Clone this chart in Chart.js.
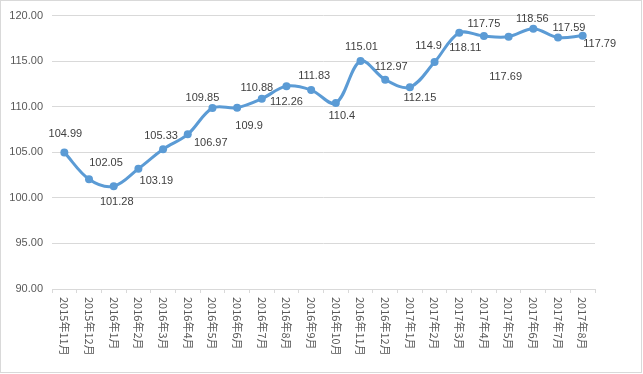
<!DOCTYPE html>
<html>
<head>
<meta charset="utf-8">
<script src="https://cdn.jsdelivr.net/npm/chart.js@4/dist/chart.umd.min.js"></script>
<style>
html,body{margin:0;padding:0;background:#fff;}
#wrap{width:643px;height:374px;position:relative;}
</style>
</head>
<body>
<div id="wrap"><canvas id="c" width="643" height="374"></canvas></div>
<script>
const categories = ["2015年11月","2015年12月","2016年1月","2016年2月","2016年3月","2016年4月","2016年5月","2016年6月","2016年7月","2016年8月","2016年9月","2016年10月","2016年11月","2016年12月","2017年1月","2017年2月","2017年3月","2017年4月","2017年5月","2017年6月","2017年7月","2017年8月"];
const values = [104.99,102.05,101.28,103.19,105.33,106.97,109.85,109.9,110.88,112.26,111.83,110.4,115.01,112.97,112.15,114.9,118.11,117.75,117.69,118.56,117.59,117.79];
const valueLabels = ["104.99","102.05","101.28","103.19","105.33","106.97","109.85","109.9","110.88","112.26","111.83","110.4","115.01","112.97","112.15","114.9","118.11","117.75","117.69","118.56","117.59","117.79"];
const yTickMin = 90, yTickMax = 120, yTickStep = 5;

// label placement style (offset of label centre from its point, px)
const labelOffsets = [[1,-18],[17,-16],[3,16],[18,12],[-2,-13],[23,9],[-10,-10],[12,18],[-5,-11],[0,16],[3,-14],[6,13],[1,-14],[6,-13],[10,11],[-6,-16],[6,15],[0,-12],[-3,40],[-1,-10],[11,-10],[17,8]];

const PAD_LEFT = 0, PAD_TOP = 15, PAD_RIGHT = 48, PAD_BOTTOM = 0;
const PLOT_LEFT = 52, PLOT_BOTTOM = 289;

const decor = {
  id: 'decor',
  afterDraw(chart) {
    const ctx = chart.ctx;
    // outer frame
    ctx.save();
    ctx.strokeStyle = '#d9d9d9';
    ctx.lineWidth = 1;
    ctx.strokeRect(0.5, 0.5, 641, 372);
    ctx.restore();
    // data labels
    const meta = chart.getDatasetMeta(0);
    ctx.save();
    ctx.font = '11px "Liberation Sans", Arial, sans-serif';
    ctx.fillStyle = '#404040';
    ctx.textAlign = 'center';
    ctx.textBaseline = 'middle';
    meta.data.forEach((pt, i) => {
      const o = labelOffsets[i] || [0, -12];
      ctx.fillText(valueLabels[i], pt.x + o[0], pt.y + o[1]);
    });
    ctx.restore();
    // vertical category labels (rotated clockwise)
    const xs = chart.scales.x;
    ctx.save();
    ctx.font = '11px "Noto Sans CJK SC", sans-serif';
    ctx.fillStyle = '#595959';
    ctx.textAlign = 'left';
    ctx.textBaseline = 'middle';
    categories.forEach((lab, i) => {
      const x = xs.getPixelForValue(i);
      ctx.save();
      ctx.translate(x, xs.top + 8);
      ctx.rotate(Math.PI / 2);
      ctx.fillText(lab, 0, 0);
      ctx.restore();
    });
    ctx.restore();
  }
};

new Chart(document.getElementById('c'), {
  type: 'line',
  data: {
    labels: categories,
    datasets: [{
      data: values,
      borderColor: '#5B9BD5',
      backgroundColor: '#5B9BD5',
      borderWidth: 3,
      pointRadius: 4,
      pointBorderWidth: 0,
      pointBackgroundColor: '#5B9BD5',
      tension: 0.35,
      fill: false
    }]
  },
  options: {
    responsive: false,
    animation: false,
    devicePixelRatio: 1,
    layout: { padding: { left: PAD_LEFT, top: PAD_TOP, right: PAD_RIGHT, bottom: PAD_BOTTOM } },
    plugins: { legend: { display: false }, tooltip: { enabled: false } },
    scales: {
      x: {
        type: 'category',
        offset: true,
        grid: { display: true, offset: true, drawOnChartArea: false, drawTicks: true, tickLength: 4, color: '#d9d9d9' },
        border: { display: true, color: '#d9d9d9' },
        ticks: { display: false },
        afterFit(scale) { scale.height = 374 - PLOT_BOTTOM - PAD_BOTTOM; }
      },
      y: {
        min: yTickMin, max: yTickMax,
        grid: { color: '#d9d9d9', drawTicks: false },
        border: { display: false },
        ticks: {
          stepSize: yTickStep,
          padding: 9,
          color: '#595959',
          font: { family: '"Liberation Sans", Arial, sans-serif', size: 11 },
          callback: v => Number(v).toFixed(2)
        },
        afterFit(scale) { scale.width = PLOT_LEFT - PAD_LEFT; }
      }
    }
  },
  plugins: [decor]
});
</script>
</body>
</html>
